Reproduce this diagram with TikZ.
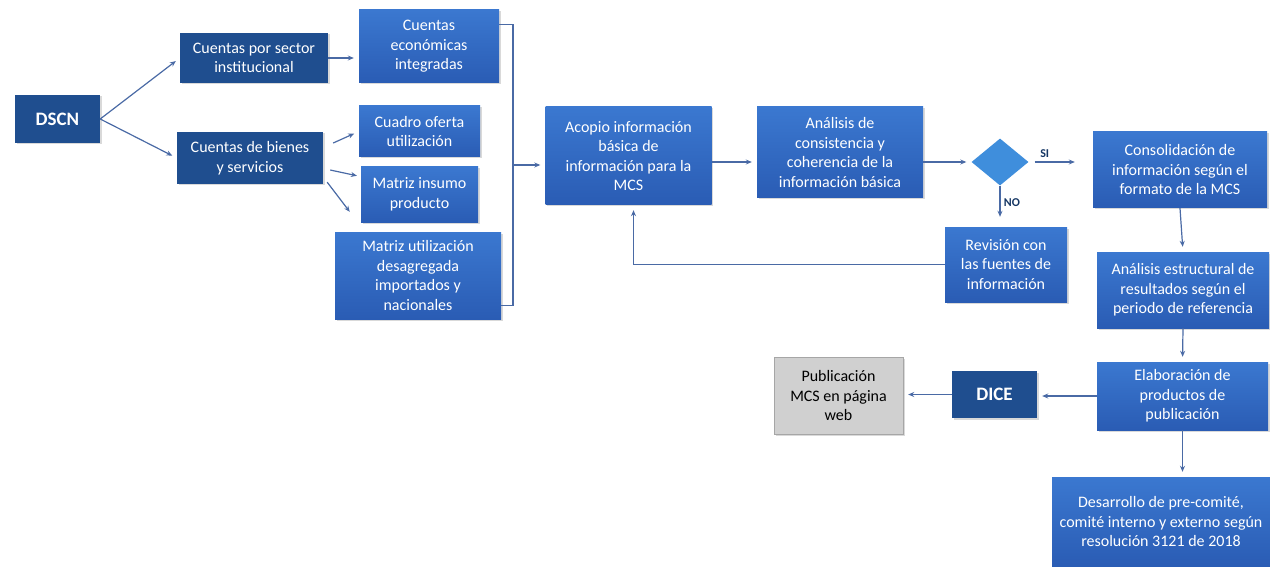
\documentclass[tikz,border=0pt]{standalone}
\usepackage{fontspec}
\setmainfont{Carlito}
\usetikzlibrary{arrows.meta,shapes.geometric,shadows}
\definecolor{darkbox}{HTML}{1F4E8F}
\definecolor{boxtop}{HTML}{3B78D0}
\definecolor{boxbot}{HTML}{2A5CB4}
\definecolor{decblue}{HTML}{3F8EDC}
\definecolor{linecol}{HTML}{4A6AA5}
\definecolor{pubgray}{HTML}{D0D0D0}
\tikzset{
  base/.style={rectangle,align=center,inner sep=2pt,text=white,
    font=\fontsize{16}{19.5}\selectfont,
    drop shadow={shadow xshift=1.5pt,shadow yshift=-1.5pt,opacity=0.3}},
  darkbox/.style={base,fill=darkbox},
  bluebox/.style={base,top color=boxtop,bottom color=boxbot},
  graybox/.style={base,fill=pubgray,draw=gray!70,text=black},
  big/.style={font=\fontsize{19}{22}\selectfont\bfseries},
  arr/.style={draw=linecol,line width=1.2pt,-{Stealth[length=6pt,width=5pt]},shorten >=5pt},
  ln/.style={draw=linecol,line width=1.2pt},
  lab/.style={font=\fontsize{12}{14}\selectfont\bfseries,text=darkbox!70!black}
}
\begin{document}
\begin{tikzpicture}[x=1pt,y=-1pt]
\useasboundingbox (0,0) rectangle (1270,567);
\node[darkbox,big,minimum width=85pt,minimum height=48pt] (dscn) at (57.5,119) {DSCN};
\node[darkbox,minimum width=148pt,minimum height=50pt] (cps) at (254,58) {Cuentas por sector\\institucional};
\node[darkbox,minimum width=146pt,minimum height=52pt] (cbs) at (250,158) {Cuentas de bienes\\y servicios};
\node[bluebox,minimum width=140pt,minimum height=73pt] (cei) at (429,46.5) {Cuentas\\económicas\\integradas};
\node[bluebox,minimum width=121pt,minimum height=51pt] (cou) at (419.5,131.5) {Cuadro oferta\\utilización};
\node[bluebox,minimum width=117pt,minimum height=55pt] (mip) at (419.5,194.5) {Matriz insumo\\producto};
\node[bluebox,minimum width=166pt,minimum height=87pt] (mud) at (418,275.5) {Matriz utilización\\desagregada\\importados y\\nacionales};
\node[bluebox,minimum width=166pt,minimum height=98pt] (aco) at (628.5,156) {Acopio información\\básica de\\información para la\\MCS};
\node[bluebox,minimum width=166pt,minimum height=91pt] (acc) at (840,152.5) {Análisis de\\consistencia y\\coherencia de la\\información básica};
\node[diamond,fill=decblue,minimum width=57pt,minimum height=47pt,inner sep=0pt] (dec) at (1000,162) {};
\node[bluebox,minimum width=122pt,minimum height=75pt] (rev) at (1006,264.5) {Revisión con\\las fuentes de\\información};
\node[bluebox,minimum width=174pt,minimum height=76pt] (con) at (1180,170) {Consolidación de\\información según el\\formato de la MCS};
\node[bluebox,minimum width=172pt,minimum height=76pt] (aer) at (1183,290) {Análisis estructural de\\resultados según el\\periodo de referencia};
\node[bluebox,minimum width=171pt,minimum height=68pt] (epp) at (1182.5,396) {Elaboración de\\productos de\\publicación};
\node[bluebox,minimum width=218pt,minimum height=90pt] (dpc) at (1161,522) {Desarrollo de pre-comité,\\comité interno y externo según\\resolución 3121 de 2018};
\node[darkbox,big,minimum width=85pt,minimum height=47pt] (dice) at (994.5,394.5) {DICE};
\node[graybox,minimum width=129pt,minimum height=77pt] (pub) at (838.5,395.5) {Publicación\\MCS en página\\web};
\coordinate (brk) at (513,165);
\draw[arr] (dscn.east) -- (cps.west);
\draw[arr] (dscn.east) -- (cbs.west);
\draw[arr] (cps.east) -- (cps.east -| cei.west);
\draw[arr] ([xshift=10pt,yshift=15pt]cbs.east) -- (cou.west);
\draw[arr] ([xshift=7pt,yshift=-12pt]cbs.east) -- ([xshift=1pt,yshift=-10pt]mip.north west);
\draw[arr] ([xshift=4pt,yshift=2pt]cbs.south east) -- ([xshift=18pt,yshift=16pt]mud.north west);
\draw[ln] ([yshift=-15pt]cei.north east) -| (brk) |- ([yshift=14pt]mud.south east);
\draw[arr] (brk) -- (brk -| aco.west);
\draw[arr] ([yshift=-6pt]aco.east) -- ([yshift=-6pt]aco.east -| acc.west);
\draw[arr] (dec.west -| acc.east) -- (dec.west);
\draw[arr,shorten <=6pt,shorten >=18pt] (dec.east) -- node[lab,above,pos=0.25] {SI} (dec.east -| con.west);
\draw[arr,shorten >=10pt] (dec.south) -- node[lab,right,pos=0.4] {NO} (dec.south |- rev.north);
\draw[arr] (rev.west) -| ([xshift=5pt]aco.south);
\draw[arr] (con.south) -- (aer.north);
\draw[arr] (aer.south) -- (epp.north);
\draw[arr] (epp.south) -- (epp.south |- dpc.north);
\draw[arr] (epp.west) -- (epp.west -| dice.east);
\draw[arr] (dice.west) -- (dice.west -| pub.east);
\end{tikzpicture}
\end{document}
